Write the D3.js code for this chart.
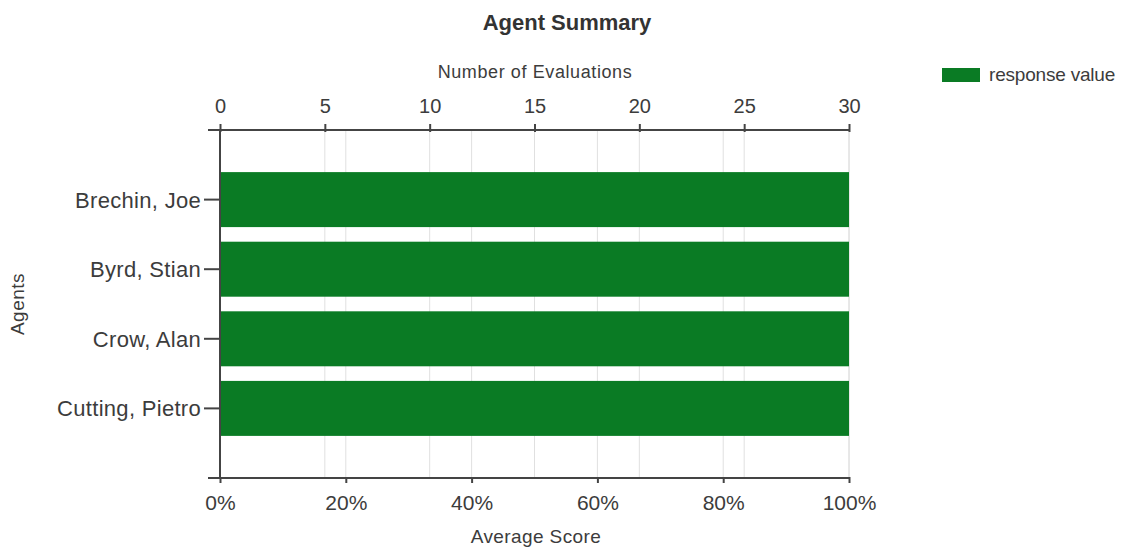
<!DOCTYPE html>
<html><head><meta charset="utf-8">
<script src="https://cdn.jsdelivr.net/npm/d3@7"></script>
<style>body{margin:0;background:#fff;} text{font-family:"Liberation Sans",Arial,sans-serif;}</style>
</head><body>
<svg id="c" width="1125" height="548"></svg>
<script>
const agents = ["Brechin, Joe","Byrd, Stian","Crow, Alan","Cutting, Pietro"];
const avgScore = [100,100,100,100];
const scoreTicks = [0,20,40,60,80,100];
const evalTicks = [0,5,10,15,20,25,30];
const seriesName = "response value";
const title = "Agent Summary";

const svg = d3.select("#c");
const L=220,R=849,T=130,B=478;
const x = d3.scaleLinear().domain([0,100]).range([L,R]);
const x2 = d3.scaleLinear().domain([0,30]).range([L,R]);
const y = d3.scaleBand().domain(agents).range([T,B]).paddingInner(0.21).paddingOuter(0.605);
const green="#0a7b24", txt="#3c3c3c", grid="#e0e0e0", axc="#444";
const ff="Liberation Sans, Arial, sans-serif";

// gridlines
svg.append("g").selectAll("line").data(scoreTicks.slice(1)).join("line")
  .attr("x1",d=>x(d)).attr("x2",d=>x(d)).attr("y1",T).attr("y2",B).attr("stroke",grid);
svg.append("g").selectAll("line").data(evalTicks.slice(1)).join("line")
  .attr("x1",d=>x2(d)).attr("x2",d=>x2(d)).attr("y1",T).attr("y2",B).attr("stroke",grid);

// bars
svg.append("g").selectAll("rect").data(agents).join("rect")
  .attr("x",x(0)).attr("y",d=>y(d)).attr("width",(d,i)=>x(avgScore[i])-x(0)).attr("height",y.bandwidth())
  .attr("fill",green);

// bottom axis
const ax = svg.append("g").attr("transform",`translate(0,${B})`)
  .call(d3.axisBottom(x).tickValues(scoreTicks).tickFormat(d=>d+"%").tickSize(5).tickSizeOuter(0));
ax.select(".domain").attr("d",`M${L-12},0H${R}`).attr("stroke",axc).attr("stroke-width",2);
ax.selectAll(".tick line").attr("y1",-1).attr("y2",5).attr("stroke",axc).attr("stroke-width",2);
ax.selectAll(".tick text").attr("y",32).attr("dy",null).attr("font-size",21).attr("fill",txt).attr("font-family",ff);

// top axis
const at = svg.append("g").attr("transform",`translate(0,${T})`)
  .call(d3.axisTop(x2).tickValues(evalTicks).tickSize(5).tickSizeOuter(0));
at.select(".domain").attr("d",`M${L-12},0H${R}`).attr("stroke",axc).attr("stroke-width",2);
at.selectAll(".tick line").attr("y1",-6).attr("y2",2).attr("stroke",axc).attr("stroke-width",2);
at.selectAll(".tick text").attr("y",-17).attr("dy",null).attr("font-size",20).attr("fill",txt).attr("font-family",ff);

// left axis
const al = svg.append("g").attr("transform",`translate(${L},0)`)
  .call(d3.axisLeft(y).tickSize(15).tickSizeOuter(0));
al.select(".domain").attr("d",`M0,${T}V${B}`).attr("stroke",axc).attr("stroke-width",2);
al.selectAll(".tick line").attr("x2",-16).attr("x1",-1).attr("stroke",axc).attr("stroke-width",2);
al.selectAll(".tick text").attr("x",-19).attr("dy","0.36em").attr("font-size",22).attr("letter-spacing",0.3).attr("fill",txt).attr("font-family",ff);

// titles
svg.append("text").attr("x",567).attr("y",30).attr("text-anchor","middle").attr("font-size",22).attr("font-weight","bold").attr("fill","#333").text(title);
svg.append("text").attr("x",535).attr("y",78).attr("text-anchor","middle").attr("font-size",18).attr("letter-spacing",0.6).attr("fill",txt).text("Number of Evaluations");
svg.append("text").attr("x",536).attr("y",543).attr("text-anchor","middle").attr("font-size",19).attr("letter-spacing",0.4).attr("fill",txt).text("Average Score");
svg.append("text").attr("transform","translate(24,304) rotate(-90)").attr("text-anchor","middle").attr("font-size",19).attr("letter-spacing",0.5).attr("fill",txt).text("Agents");

// legend
svg.append("rect").attr("x",942).attr("y",68).attr("width",38).attr("height",14).attr("fill",green);
svg.append("text").attr("x",989).attr("y",81).attr("font-size",19).attr("letter-spacing",-0.2).attr("fill",txt).text(seriesName);
</script>
</body></html>
